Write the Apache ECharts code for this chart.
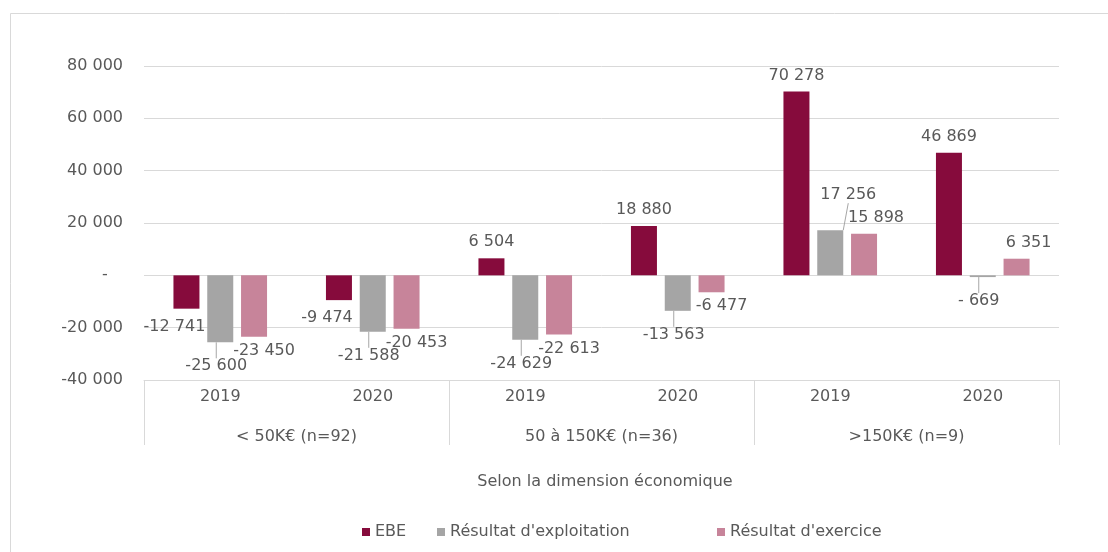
<!DOCTYPE html>
<html>
<head>
<meta charset="utf-8">
<script src="https://cdn.jsdelivr.net/npm/echarts@6/dist/echarts.min.js"></script>
<style>
html,body{margin:0;padding:0;background:#fff;}
#chart{width:1108px;height:552px;}
</style>
</head>
<body>
<div id="chart"></div>
<script>
// ---- data ----
const years = ['2019', '2020', '2019', '2020', '2019', '2020'];
const groups = ['< 50K€ (n=92)', '50 à 150K€ (n=36)', '>150K€ (n=9)'];
const seriesNames = ['EBE', "Résultat d'exploitation", "Résultat d'exercice"];
const ebe = [-12741, -9474, 6504, 18880, 70278, 46869];
const resExploitation = [-25600, -21588, -24629, -13563, 17256, -669];
const resExercice = [-23450, -20453, -22613, -6477, 15898, 6351];
const yTicks = [-40000, -20000, 0, 20000, 40000, 60000, 80000];
const axisTitle = 'Selon la dimension économique';

// ---- styles ----
const FONT = 'DejaVu Sans';
const TXT = '#595959';
const LINE = '#d9d9d9';
const colors = ['#860B3C', '#A5A5A5', '#C7849A'];

function grp(n) {
  return Math.abs(n).toString().replace(/\B(?=(\d{3})+(?!\d))/g, ' ');
}
function fmtAxis(v) {
  if (v === 0) return '-   ';
  return (v < 0 ? '-' : '') + grp(v);
}
function fmtLabel(v) {
  if (v < 0) return (Math.abs(v) < 1000 ? '- ' : '-') + grp(v);
  return grp(v);
}

const allSeries = [ebe, resExploitation, resExercice];
// label nudges per series: [dx, dy] for negative / positive bars
const nudges = [
  { neg: [-12, 5], pos: [0, -3] },
  { neg: [-4, 11], pos: [18, -22] },
  { neg: [10, 1], pos: [12, -3] }
];

const series = allSeries.map((vals, si) => ({
  name: seriesNames[si],
  type: 'bar',
  xAxisIndex: 0,
  barWidth: 26,
  barGap: '30%',
  itemStyle: { color: colors[si] },
  data: vals.map(v => ({
    value: v,
    label: { position: v < 0 ? 'bottom' : 'top' }
  })),
  label: {
    show: true,
    fontFamily: FONT,
    fontSize: 16,
    color: TXT,
    distance: 5,
    formatter: p => fmtLabel(p.value)
  },
  labelLine: si === 1 ? { show: true, lineStyle: { color: '#a6a6a6', width: 1 } } : { show: false },
  labelLayout: function (params) {
    const v = vals[params.dataIndex];
    const n = v < 0 ? nudges[si].neg : nudges[si].pos;
    return { dx: n[0], dy: n[1] };
  }
}));

const legendX = [362, 437, 717];

const option = {
  backgroundColor: '#ffffff',
  animation: false,
  textStyle: { fontFamily: FONT },
  grid: { left: 144, right: 49, top: 66, bottom: 172, containLabel: false },
  legend: seriesNames.map((n, i) => ({
    data: [n],
    left: legendX[i],
    top: 524,
    padding: 0,
    icon: 'rect',
    itemWidth: 8,
    itemHeight: 8,
    textStyle: { fontFamily: FONT, fontSize: 16, color: TXT }
  })),
  xAxis: [
    {
      type: 'category',
      data: years,
      position: 'bottom',
      axisLine: { show: true, onZero: false, lineStyle: { color: LINE, width: 1 } },
      axisTick: { show: false },
      axisLabel: { margin: 9, fontFamily: FONT, fontSize: 16, color: TXT, interval: 0 },
      splitLine: { show: false }
    },
    {
      type: 'category',
      data: groups,
      position: 'bottom',
      axisLine: { show: false, onZero: false },
      axisTick: { show: true, length: 65, interval: 0, lineStyle: { color: LINE, width: 1 } },
      axisLabel: { margin: 49, fontFamily: FONT, fontSize: 16, color: TXT, interval: 0 },
      splitLine: { show: false }
    }
  ],
  yAxis: {
    type: 'value',
    min: yTicks[0],
    max: yTicks[yTicks.length - 1],
    interval: yTicks[1] - yTicks[0],
    axisLine: { show: false },
    axisTick: { show: false },
    axisLabel: { margin: 21, fontFamily: FONT, fontSize: 16, color: TXT, formatter: fmtAxis },
    splitLine: { show: true, lineStyle: { color: LINE, width: 1 } }
  },
  graphic: [
    {
      type: 'polyline',
      shape: { points: [[10.5, 560], [10.5, 13.5], [1120, 13.5]] },
      style: { fill: null, stroke: LINE, lineWidth: 1 },
      silent: true,
      z: -10
    },
    {
      type: 'text',
      x: 605,
      y: 482,
      style: { text: axisTitle, fontFamily: FONT, fontSize: 16, fill: TXT, align: 'center', verticalAlign: 'middle' }
    }
  ],
  series: series
};

const chart = echarts.init(document.getElementById('chart'), null, { renderer: 'canvas' });
chart.setOption(option);
</script>
</body>
</html>
